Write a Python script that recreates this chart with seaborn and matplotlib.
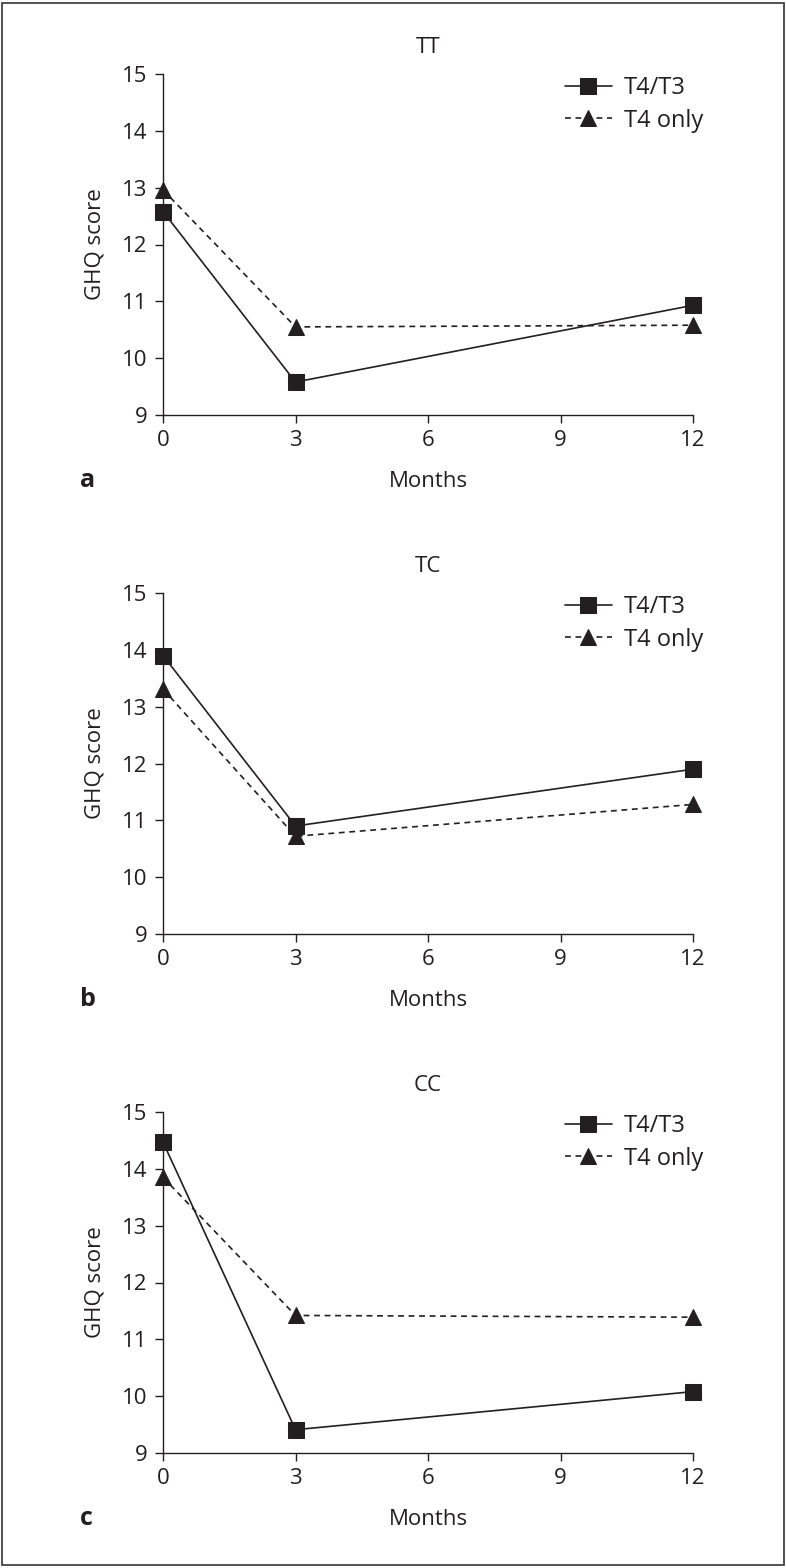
import pandas as pd
import matplotlib.pyplot as plt
import seaborn as sns
from matplotlib.patches import Rectangle

months = [0, 3, 12]
groups = ['T4/T3', 'T4 only']
panels = ['TT', 'TC', 'CC']
panel_letters = ['a', 'b', 'c']

tt_t4t3 = [12.58, 9.58, 10.93]
tt_t4only = [12.96, 10.55, 10.58]
tc_t4t3 = [13.9, 10.9, 11.9]
tc_t4only = [13.31, 10.72, 11.28]
cc_t4t3 = [14.47, 9.41, 10.08]
cc_t4only = [13.85, 11.42, 11.39]

values = {
    'TT': (tt_t4t3, tt_t4only),
    'TC': (tc_t4t3, tc_t4only),
    'CC': (cc_t4t3, cc_t4only),
}


def make_frame(panel):
    a, b = values[panel]
    rows = []
    for m, v in zip(months, a):
        rows.append({'Months': m, 'score': v, 'group': groups[0]})
    for m, v in zip(months, b):
        rows.append({'Months': m, 'score': v, 'group': groups[1]})
    return pd.DataFrame(rows)


sns.set_theme(style='ticks')
plt.rcParams['font.family'] = ['Open Sans', 'DejaVu Sans']
ink = '#231f20'
plt.rcParams['text.color'] = ink
plt.rcParams['axes.labelcolor'] = ink
plt.rcParams['xtick.color'] = ink
plt.rcParams['ytick.color'] = ink

fig = plt.figure(figsize=(7.86, 15.68), dpi=100)
fig.patches.append(Rectangle((0.003, 0.002), 0.994, 0.996, transform=fig.transFigure,
                             fill=False, edgecolor='#333333', linewidth=1.2))

fs = 16
bottoms = [1 - 415 / 1568, 1 - 934 / 1568, 1 - 1453 / 1568]
for panel, letter, bot in zip(panels, panel_letters, bottoms):
    ax = fig.add_axes([163 / 786, bot, 530 / 786, 341 / 1568])
    df = make_frame(panel)
    sns.lineplot(data=df, x='Months', y='score', style='group', ax=ax,
                 markers={'T4/T3': 's', 'T4 only': '^'},
                 dashes={'T4/T3': '', 'T4 only': (3.5, 2.8)},
                 color=ink, markersize=11, linewidth=1.2,
                 markeredgecolor=ink, markerfacecolor=ink)
    ax.set_xlim(0, 12)
    ax.set_ylim(9, 15)
    ax.set_xticks([0, 3, 6, 9, 12])
    ax.set_yticks(range(9, 16))
    for sp in ['top', 'right']:
        ax.spines[sp].set_visible(False)
    for sp in ['left', 'bottom']:
        ax.spines[sp].set_color(ink)
        ax.spines[sp].set_linewidth(1.0)
    ax.tick_params(axis='both', labelsize=fs, length=6, width=1.0, pad=5)
    ax.set_xlabel('Months', fontsize=fs, labelpad=14)
    ax.set_ylabel('GHQ score', fontsize=fs, labelpad=12)
    ax.set_title(panel, fontsize=fs, pad=15)
    ax.text(-0.156, -0.191, letter, transform=ax.transAxes, fontsize=18,
            fontweight='bold', ha='left', va='center')
    ax.legend(frameon=False, loc='upper right', bbox_to_anchor=(1.059, 1.055),
              fontsize=17, handlelength=2.0, handletextpad=0.5,
              labelspacing=0.35, title=None)
    for line in ax.lines:
        line.set_clip_on(False)

fig.savefig('out.png', dpi=100)
